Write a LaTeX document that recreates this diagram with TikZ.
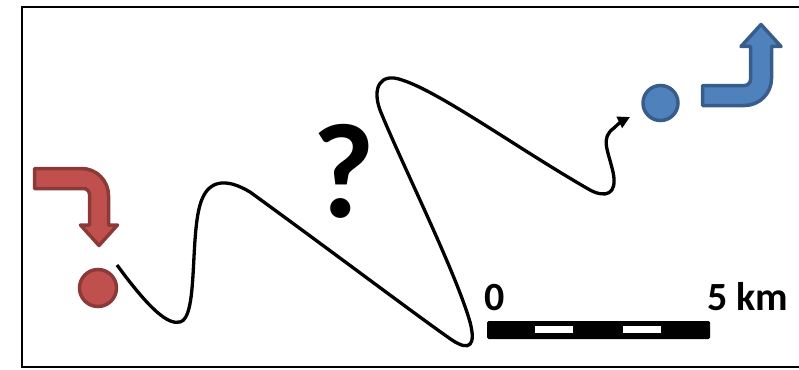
\documentclass[tikz,border=0pt]{standalone}
\usepackage{fontspec}
\setmainfont{Carlito}
\usetikzlibrary{arrows.meta}

\definecolor{redfill}{HTML}{C0504D}
\definecolor{redline}{HTML}{8C3A38}
\definecolor{bluefill}{HTML}{4F81BD}
\definecolor{blueline}{HTML}{385D8A}

\begin{document}
\begin{tikzpicture}[x=1pt,y=-1pt]
    \useasboundingbox (0,0) rectangle (799,369);
    \draw[line width=2pt] (21.5,7.5) rectangle (802,366.5);
    \coordinate (S) at (98,288);
    \coordinate (G) at (660.5,103);
    \coordinate (start) at (117,265);
    \coordinate (goal) at (630,117);
    % bent arrows
    \draw[line width=3.5pt, line join=round, fill=redfill, draw=redline]
        (34.5,168.5) [rounded corners=27pt] -- (108.5,168.5) [sharp corners] -- (108.5,225)
        -- (117.5,225) -- (99,245.5) -- (80.5,225) -- (89.5,225)
        [rounded corners=6pt] -- (89.5,188.5) [sharp corners] -- (34.5,188.5) -- cycle;
    \draw[line width=3.5pt, line join=round, fill=bluefill, draw=blueline]
        (702.5,85.5) [rounded corners=6pt] -- (750.5,85.5) [sharp corners] -- (750.5,46.5)
        -- (741,46.5) -- (761,24.5) -- (781,46.5) -- (771.5,46.5)
        [rounded corners=27pt] -- (771.5,105.5) [sharp corners] -- (702.5,105.5) -- cycle;
    \filldraw[line width=3.5pt, fill=redfill, draw=redline] (S) circle (18.5);
    \filldraw[line width=3.5pt, fill=bluefill, draw=blueline] (G) circle (17.5);
    % the route
    \draw[line width=3.3pt, -{Triangle[length=12pt,width=12pt]}]
        (start) .. controls (150,310) and (168,325) .. (180,322)
        .. controls (198,318) and (190,240) .. (200,205)
        .. controls (207,180) and (225,177) .. (250,192)
        .. controls (330,250) and (420,318) .. (452,340)
        .. controls (470,352) and (476,345) .. (470,322)
        .. controls (455,270) and (400,160) .. (380,110)
        .. controls (372,88) and (380,72) .. (402,80)
        .. controls (440,92) and (520,150) .. (590,190)
        .. controls (605,198) and (618,195) .. (613,172)
        .. controls (608,150) and (600,138) .. (614,128)
        .. controls (618,124) and (622,121) .. (goal);
    \node[font=\bfseries\fontsize{135}{135}\selectfont, anchor=base, inner sep=0pt] (q) at (343.5,217) {?};
    % scale bar
    \fill[rounded corners=1.5pt] (487,321) rectangle (710,339);
    \foreach \a in {535,623} {\fill[white] (\a,326) rectangle (\a+38,333);}
    \node[font=\bfseries\fontsize{40}{40}\selectfont, anchor=base west, inner sep=0pt] (zero) at (484,310) {0};
    \node[font=\bfseries\fontsize{40}{40}\selectfont, anchor=base west, inner sep=0pt] (five) at (707,310) {5 km};
\end{tikzpicture}
\end{document}
